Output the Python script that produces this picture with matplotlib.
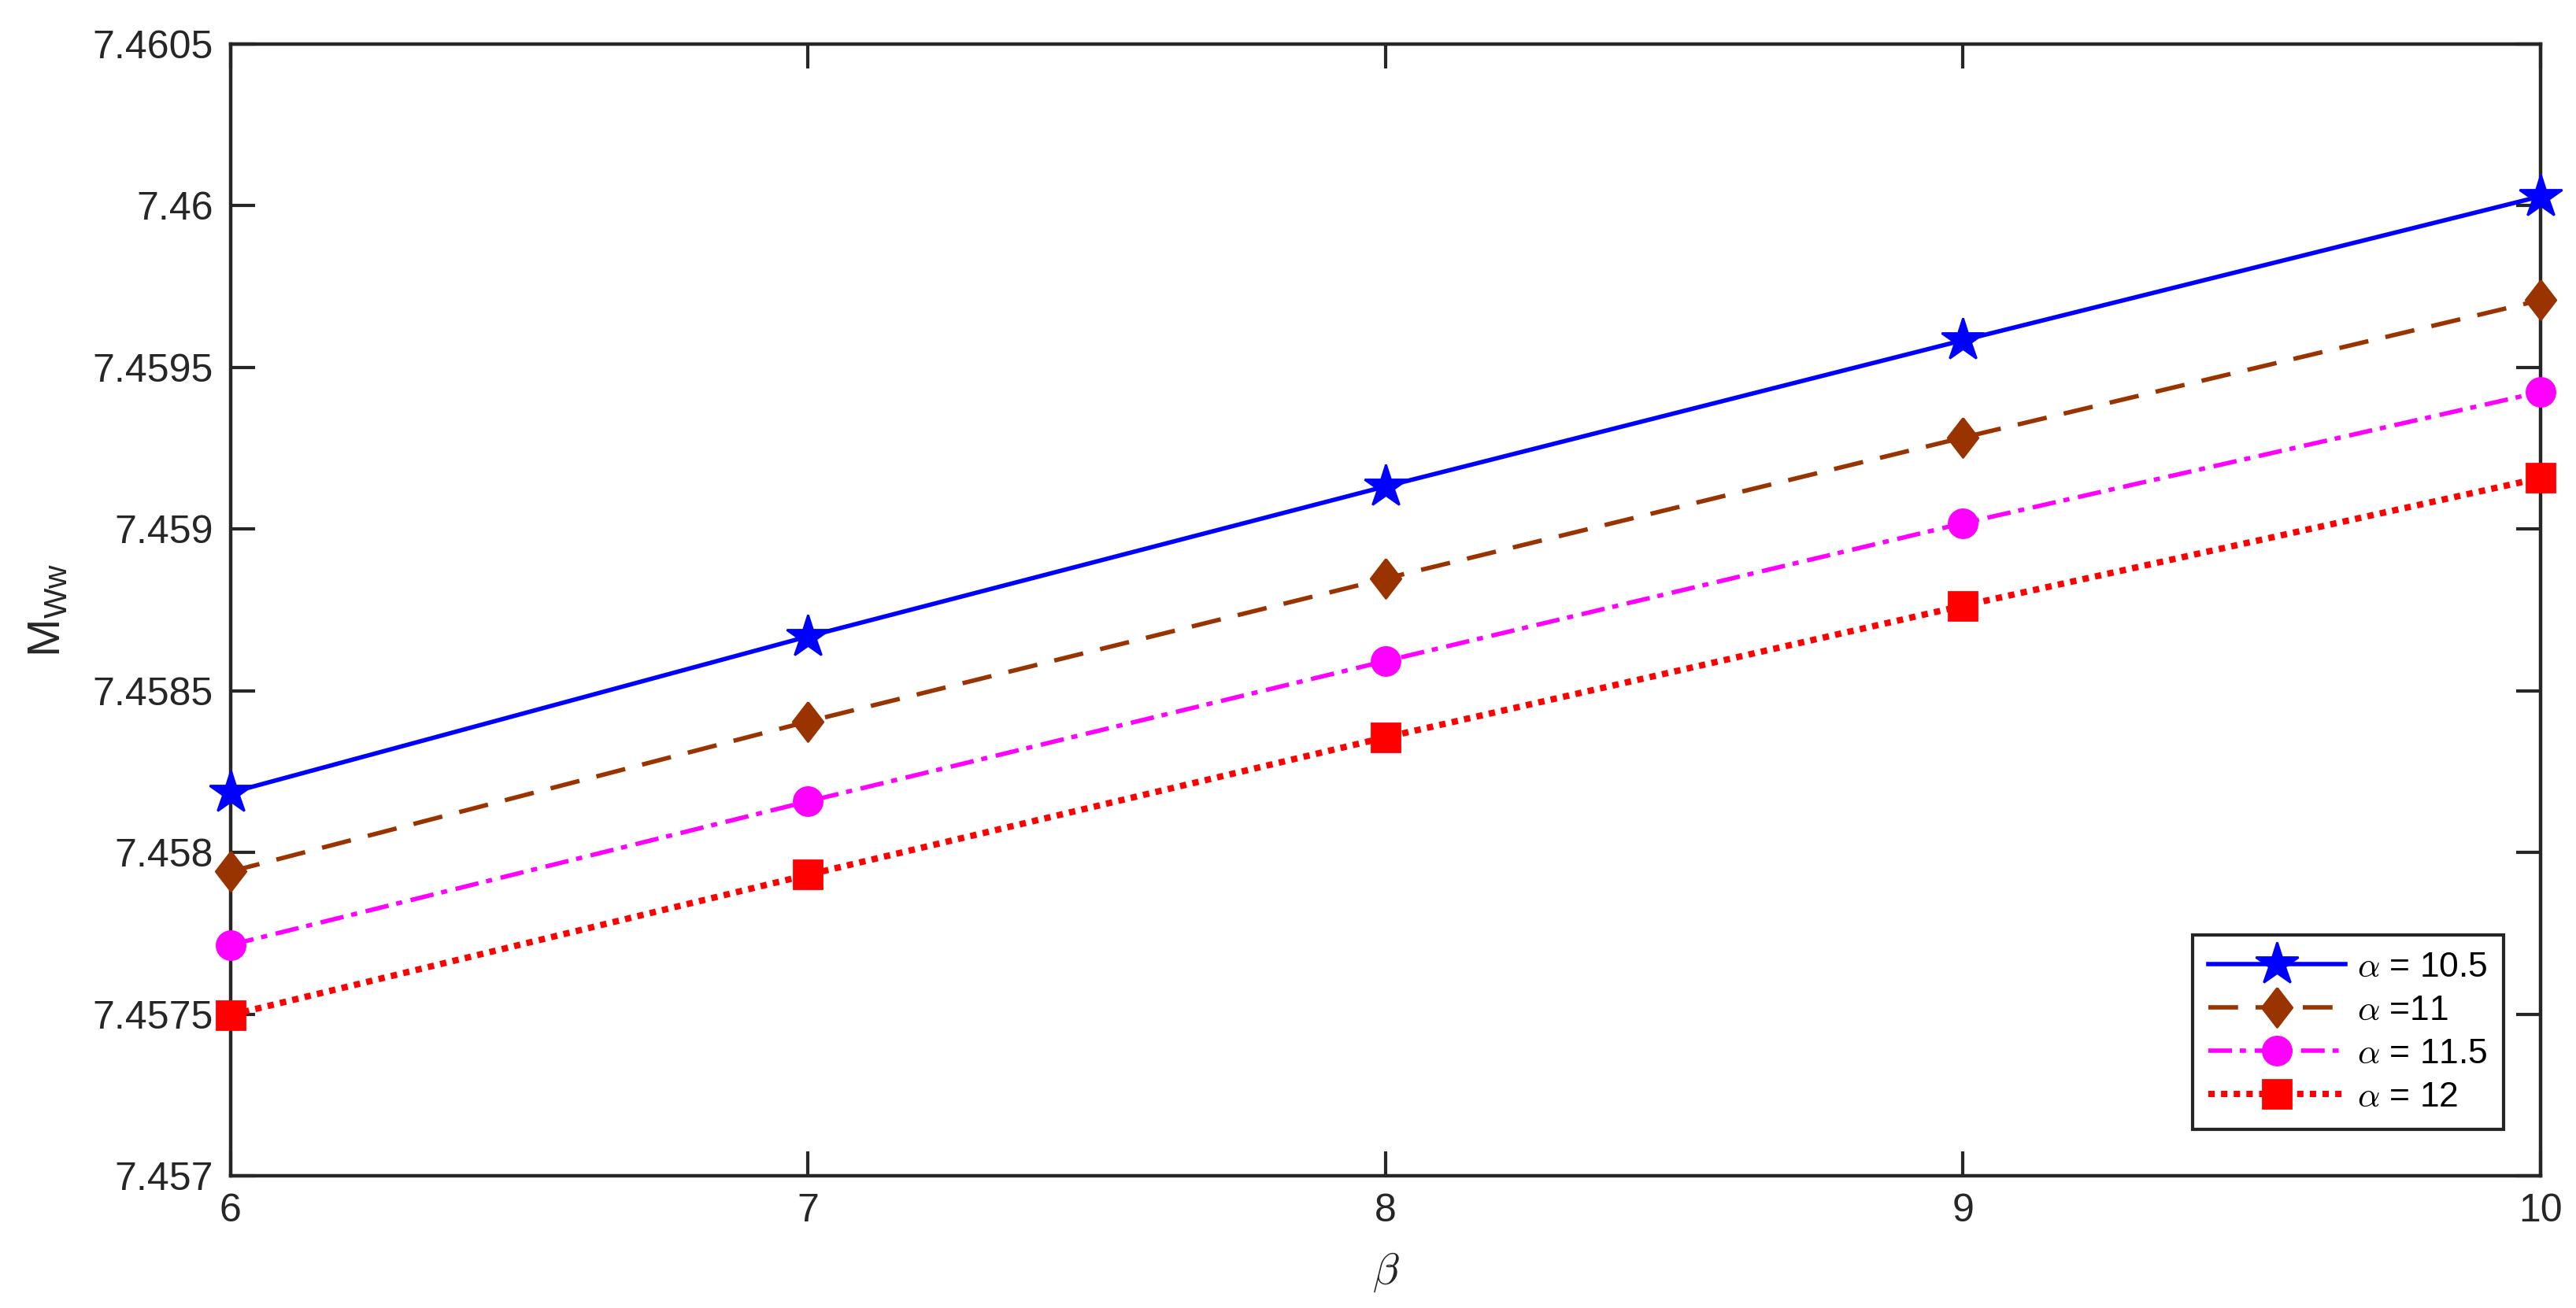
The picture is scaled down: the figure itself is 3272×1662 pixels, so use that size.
import numpy as np
import matplotlib
matplotlib.use("Agg")
import matplotlib.pyplot as plt

plt.rcParams['font.family'] = ['Liberation Sans', 'DejaVu Sans']
plt.rcParams['mathtext.fontset'] = 'custom'
plt.rcParams['mathtext.rm'] = 'Liberation Sans'
plt.rcParams['mathtext.it'] = 'Liberation Sans:italic'

# data
beta = [6, 7, 8, 9, 10]
m_a105 = [7.458185, 7.458668, 7.459132, 7.459584, 7.460029]
m_a11 = [7.457941, 7.458405, 7.458847, 7.459283, 7.459708]
m_a115 = [7.457714, 7.458158, 7.458592, 7.459018, 7.459424]
m_a12 = [7.457497, 7.457931, 7.458356, 7.458763, 7.459158]

labels = [r'$\alpha$ = 10.5', r'$\alpha$ =11', r'$\alpha$ = 11.5', r'$\alpha$ = 12']
yticks = [7.457, 7.4575, 7.458, 7.4585, 7.459, 7.4595, 7.46, 7.4605]
ytick_labels = ['7.457', '7.4575', '7.458', '7.4585', '7.459', '7.4595', '7.46', '7.4605']

dark = '#262626'
diamond = [(0, 1), (0.77, 0), (0, -1), (-0.77, 0), (0, 1)]

fig = plt.figure(figsize=(16.365, 8.31), dpi=200)
ax = fig.add_axes([0.0895, 0.1011, 0.8964, 0.8652])

ax.plot(beta, m_a105, color=(0, 0, 1), lw=2.0, marker='*', ms=20.5,
        label=labels[0], clip_on=False, zorder=3)
ax.plot(beta, m_a11, color='#993300', lw=2.0, dashes=(6.8, 4.0),
        marker=diamond, ms=18, label=labels[1], clip_on=False, zorder=3)
ax.plot(beta, m_a115, color=(1, 0, 1), lw=2.0, dashes=(5.4, 1.8, 1.4, 2.0),
        marker='o', ms=13, label=labels[2], clip_on=False, zorder=3)
ax.plot(beta, m_a12, color=(1, 0, 0), lw=2.9, dashes=(1, 1),
        marker='s', ms=13, label=labels[3], clip_on=False, zorder=3)

ax.set_xlim(6, 10)
ax.set_ylim(7.457, 7.4605)
ax.set_xticks(beta)
ax.set_yticks(yticks)
ax.set_yticklabels(ytick_labels)

ax.tick_params(direction='in', top=True, right=True, length=11, width=1.5,
               labelsize=18, colors=dark, pad=8)
for s in ax.spines.values():
    s.set_linewidth(1.6)
    s.set_color(dark)

ax.set_xlabel(r'$\beta$', fontsize=20, color=dark, math_fontfamily='cm')
ax.xaxis.set_label_coords(0.5, -0.066)
ax.set_ylabel(r'M$_{\mathrm{Ww}}$', fontsize=21, color=dark)
ax.yaxis.set_label_coords(-0.07, 0.5)

leg = ax.legend(loc='lower right', bbox_to_anchor=(3180 / 3273, 1 - 1435 / 1662),
                bbox_transform=fig.transFigure, borderaxespad=0, fontsize=16,
                handlelength=3.9, handletextpad=0.35, labelspacing=0.32,
                borderpad=0.45, fancybox=False, framealpha=1)
leg.set_zorder(5)
leg.get_frame().set_edgecolor(dark)
leg.get_frame().set_linewidth(1.5)
for t in leg.get_texts():
    t.set_math_fontfamily('cm')

fig.savefig('out.png', dpi=200)
